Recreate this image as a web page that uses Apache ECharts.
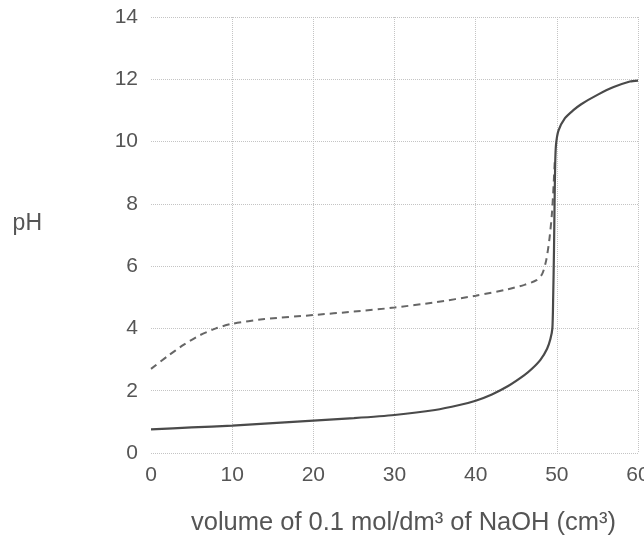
<!DOCTYPE html>
<html>
<head>
<meta charset="utf-8">
<script src="https://cdn.jsdelivr.net/npm/echarts@6/dist/echarts.min.js"></script>
<style>html,body{margin:0;padding:0;background:#fff}#c{width:644px;height:537px}</style>
</head>
<body>
<div id="c"></div>
<script>
// strong acid (solid) titration curve: [volume cm3, pH]
var strongAcid = [[0,0.76],[5,0.82],[10,0.88],[15,0.96],[20,1.04],[25,1.12],[30,1.22],[35,1.38],[38,1.54],[40,1.68],[42,1.88],[44,2.15],[46,2.5],[47,2.72],[48,3.0],[48.8,3.35],[49.2,3.65],[49.45,4.0],[49.55,5.0],[49.65,6.5],[49.72,8.0],[49.8,9.3],[49.9,9.9],[50.2,10.35],[51,10.75],[52,11.0],[53,11.2],[55,11.5],[57,11.75],[59,11.93],[60,11.96]];
// weak acid (dashed) titration curve
var weakAcid = [[0,2.7],[2,3.1],[4,3.47],[6,3.78],[8,4.0],[10,4.15],[14,4.3],[20,4.43],[25,4.54],[30,4.67],[35,4.84],[40,5.05],[44,5.26],[46,5.4],[47.5,5.55],[48.2,5.75],[48.7,6.2],[49.1,6.9],[49.4,7.7],[49.6,8.6],[49.75,9.4]];
var xTicks = [0,10,20,30,40,50,60];
var yTicks = [0,2,4,6,8,10,12,14];
var xName = 'volume of 0.1 mol/dm³ of NaOH (cm³)';
var yName = 'pH';

var font = '"Liberation Sans", Arial, Helvetica, sans-serif';
var chart = echarts.init(document.getElementById('c'));
chart.setOption({
  animation: false,
  backgroundColor: '#fff',
  grid: {left: 151, right: 6, top: 17, bottom: 84, containLabel: false, outerBoundsMode: 'none'},
  xAxis: {
    type: 'value', min: xTicks[0], max: xTicks[xTicks.length-1], interval: 10,
    name: xName, nameLocation: 'middle', nameGap: 57,
    nameTextStyle: {color: '#555', fontSize: 25.5, fontFamily: font, padding: [0,0,0,18]},
    axisLine: {show: false}, axisTick: {show: false},
    axisLabel: {color: '#555', fontSize: 21, fontFamily: font, margin: 12},
    splitLine: {show: true, lineStyle: {type: 'dotted', width: 1,
      color: ['rgba(0,0,0,0)','#c4c4c4','#c4c4c4','#c4c4c4','#c4c4c4','#c4c4c4','#c4c4c4']}}
  },
  yAxis: {
    type: 'value', min: yTicks[0], max: yTicks[yTicks.length-1], interval: 2,
    name: yName, nameLocation: 'middle', nameRotate: 0, nameGap: 109,
    nameTextStyle: {color: '#555', fontSize: 23, fontFamily: font, verticalAlign: 'bottom'},
    axisLine: {show: false}, axisTick: {show: false},
    axisLabel: {color: '#555', fontSize: 21, fontFamily: font, margin: 13},
    splitLine: {show: true, lineStyle: {type: 'dotted', width: 1, color: '#c4c4c4'}}
  },
  series: [
    {type: 'line', data: strongAcid, showSymbol: false, smooth: 0.25,
     lineStyle: {color: '#4a4a4a', width: 2.2}, z: 3},
    {type: 'line', data: weakAcid, showSymbol: false, smooth: 0.25,
     lineStyle: {color: '#666', width: 2, type: [7,5]}, z: 2}
  ]
});
</script>
</body>
</html>
